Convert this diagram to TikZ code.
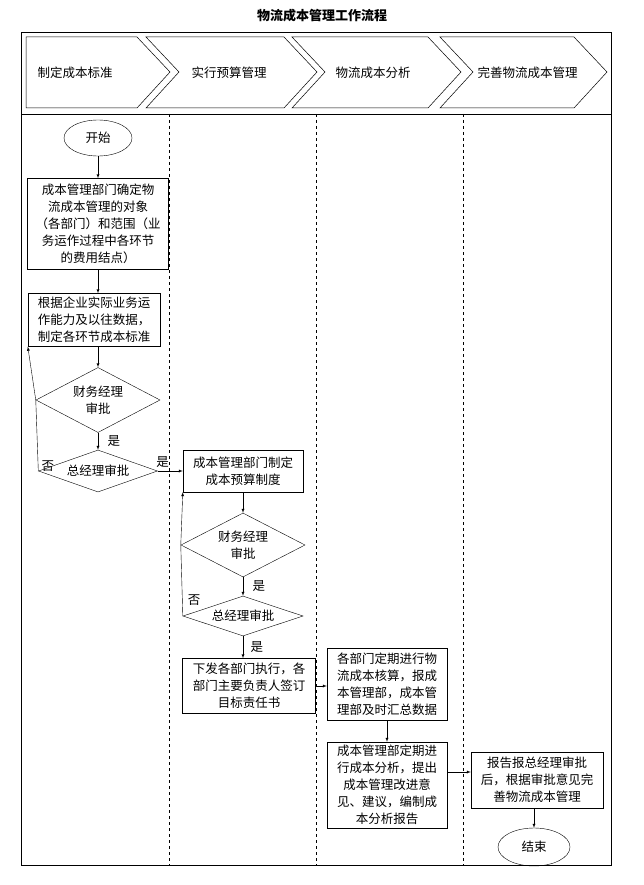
\documentclass[tikz,border=0pt]{standalone}
\usepackage{fontspec}
\setmainfont{Noto Sans CJK SC}
\usetikzlibrary{shapes.geometric}
\begin{document}
\begin{tikzpicture}[x=1pt,y=-1pt,>=latex,
  font=\fontsize{12.5}{17}\selectfont,
  box/.style={draw,rectangle,align=center,inner sep=2pt},
  dec/.style={draw,diamond,aspect=2.6,inner sep=0pt,align=center},
  term/.style={draw,ellipse},
  lane/.style={dashed},
  chev/.style={draw,fill=white,line width=0.5pt}]
\useasboundingbox (0,0) rectangle (644,885);
\node[font=\fontsize{13}{15}\selectfont\bfseries] (title) at (322,16) {物流成本管理工作流程};
\draw (21,32) rectangle (611,865);
\draw (21,114) -- (611,114);
% lanes
\foreach \x in {169,316,463} \draw[lane] (\x,114) -- (\x,865);
% chevrons
\draw[chev] (26,37) -- (137,37) -- (170,72) -- (137,108) -- (26,108) -- cycle;
\draw[chev] (146,37) -- (284,37) -- (317,72) -- (284,108) -- (146,108) -- (179,72) -- cycle;
\draw[chev] (292,37) -- (428,37) -- (461,72) -- (428,108) -- (292,108) -- (325,72) -- cycle;
\draw[chev] (440,37) -- (574,37) -- (607,72) -- (574,108) -- (440,108) -- (473,72) -- cycle;
\node[anchor=west] (h1) at (34,73) {制定成本标准};
\node[anchor=west] (h2) at (188,73) {实行预算管理};
\node[anchor=west] (h3) at (332,73) {物流成本分析};
\node[anchor=west] (h4) at (474,73) {完善物流成本管理};
% nodes
\node[term,minimum width=68,minimum height=36] (start) at (98,138) {开始};
\node[box,minimum width=141,minimum height=91] (scope) at (98,224) {成本管理部门确定物\\流成本管理的对象\\（各部门）和范围（业\\务运作过程中各环节\\的费用结点）};
\node[box,minimum width=132,minimum height=53] (std) at (94,320) {根据企业实际业务运\\作能力及以往数据，\\制定各环节成本标准};
\node[dec,minimum width=119,minimum height=65] (fin1) at (98,400) {财务经理\\审批};
\node[dec,minimum width=119,minimum height=42] (gm1) at (98,471) {总经理审批};
\node[box,minimum width=120,minimum height=42] (budget) at (243,471) {成本管理部门制定\\成本预算制度};
\node[dec,minimum width=120,minimum height=64] (fin2) at (243,545) {财务经理\\审批};
\node[dec,minimum width=120,minimum height=40] (gm2) at (243,616) {总经理审批};
\node[box,minimum width=133,minimum height=55] (issue) at (249,686) {下发各部门执行，各\\部门主要负责人签订\\目标责任书};
\node[box,minimum width=120,minimum height=72] (check) at (387,684) {各部门定期进行物\\流成本核算，报成\\本管理部，成本管\\理部及时汇总数据};
\node[box,minimum width=120,minimum height=86] (report) at (387,785) {成本管理部定期进\\行成本分析，提出\\成本管理改进意\\见、建议，编制成\\本分析报告};
\node[box,minimum width=132,minimum height=56] (improve) at (537,780) {报告报总经理审批\\后，根据审批意见完\\善物流成本管理};
\node[term,minimum width=72,minimum height=38] (end) at (534,847) {结束};
% connectors
\draw[->] (start) -- (scope);
\draw[->] (scope) -- (scope |- std.north);
\draw[->] (std.south -| fin1) -- (fin1);
\draw[->] (fin1) -- node[right,xshift=6] {是} (gm1);
\draw[->] (fin1.west) -- (std.south west);
\draw (gm1.west) -- (fin1.west) node[below,pos=0.2,xshift=10] {否};
\draw[->] (gm1.east) -- node[above,pos=0.2] {是} (budget.west);
\draw[->] (budget) -- (fin2);
\draw[->] (fin2) -- node[right,xshift=6] {是} (gm2);
\draw[->] (fin2.west) -- (budget.south west);
\draw (gm2.west) -- (fin2.west) node[below,pos=0.35,xshift=12] {否};
\draw[->] (gm2) -- node[right,xshift=4] {是} (gm2 |- issue.north);
\draw[->] (issue.east) -- (check.west |- issue.east);
\draw[->] (check) -- (report);
\draw[->] (report.east |- improve.west) ++(0,-8) coordinate (r6) (r6) -- (improve.west |- r6);
\draw[->] (improve.south -| end) -- (end);
\end{tikzpicture}
\end{document}
